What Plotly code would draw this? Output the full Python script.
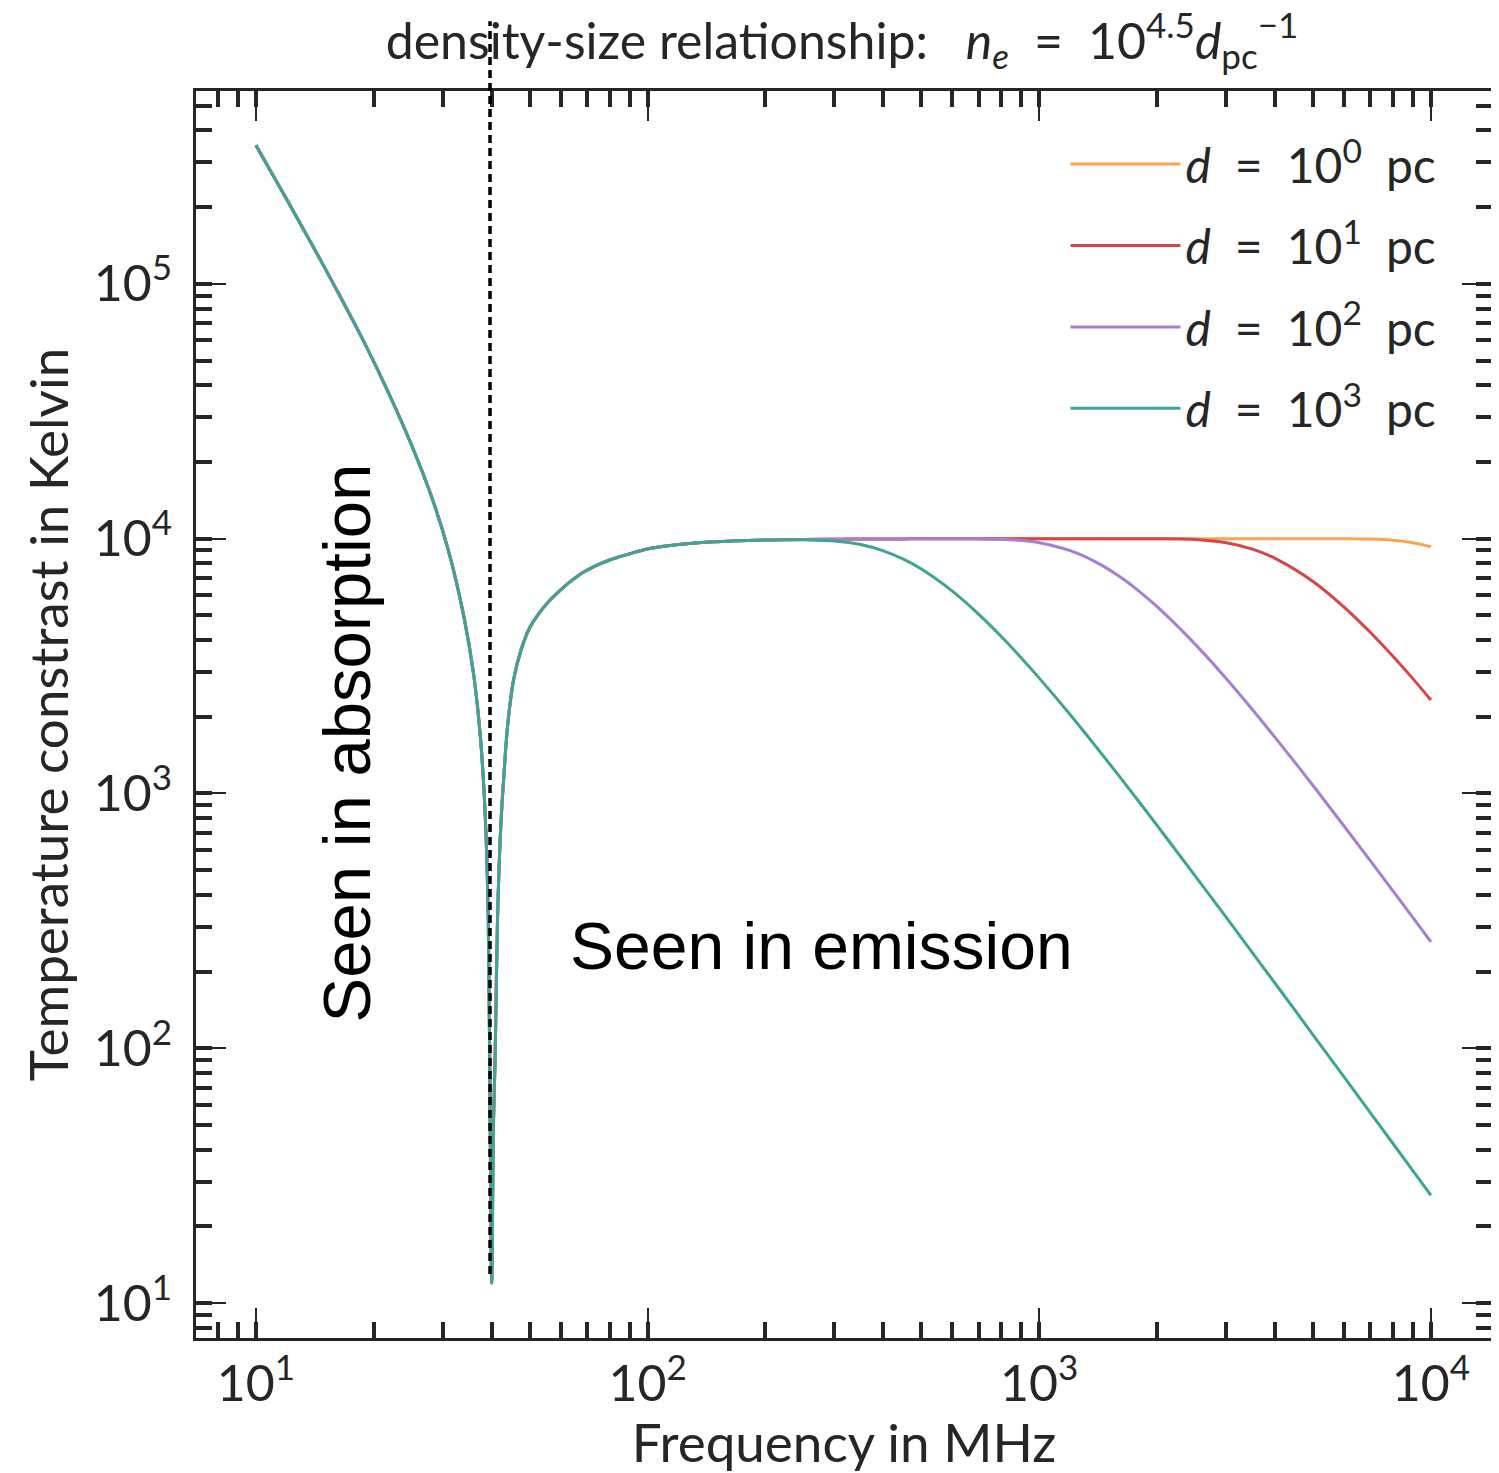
import math
import plotly.graph_objects as go

# ---- data ----
freq_mhz = [10, 12, 14, 16, 19, 22, 25, 28, 31, 34, 36, 37.5, 38.5, 39.2, 39.6, 40.0,
            40.4, 40.8, 41.4, 42.2, 43.0, 44.0, 45.5, 47.5, 50, 53, 56, 60, 63, 67, 71,
            75, 80, 85, 92, 100, 110, 120, 135, 150, 165, 180, 200, 220,
            250, 300, 350, 400, 450, 500, 600, 700, 800, 900, 1000, 1200, 1400, 1600,
            1800, 2000, 2500, 3000, 3500, 4000, 5000, 6000, 7000, 8000, 9000, 10000]

# shared part of all curves (10 - 220 MHz)
t_common = [350000, 214000, 140000, 96000, 58000, 36300, 23200, 14800, 9000, 4900,
            2900, 1600, 820, 320, 60, 12,
            50, 90, 330, 750, 1200, 1900, 2800, 3650, 4470, 5130, 5680, 6300, 6720,
            7220, 7600, 7920, 8250, 8500, 8820, 9110, 9330, 9480, 9640, 9730, 9790,
            9840, 9880, 9905]

# 250 - 10000 MHz, per cloud size
t_tail_d1 = [9925, 9948, 9965, 9975, 9982, 9986, 9991, 9993, 9995, 9996, 9997, 9998,
             9999, 9999, 9999, 10000, 10000, 10000, 10000, 10000, 10000,
             9996, 9963, 9855, 9634, 9294]
t_tail_d10 = [9925, 9948, 9965, 9975, 9982, 9986, 9991, 9993, 9995, 9996, 9997, 9998,
              9999, 9999, 9998, 9996, 9923, 9640, 9096, 8373, 6793, 5392, 4293, 3453,
              2817, 2329]
t_tail_d100 = [9925, 9948, 9965, 9975, 9982, 9986, 9990, 9984, 9947, 9841, 9642, 8973,
               8072, 7118, 6214, 5409, 3856, 2827, 2137, 1661, 1075, 745.5, 545, 415,
               325.5, 261.6]
t_tail_d1000 = [9898, 9796, 9482, 8960, 8307, 7598, 6224, 5059, 4132, 3404, 2836, 2036,
                1518, 1170, 926, 749, 475, 327, 237.5, 180, 113, 77.2, 55.9, 42.3,
                33.0, 26.5]

EQ = "\u2002=\u2002"
series_labels = [f"<i>d</i>{EQ}10<sup>0</sup>\u2002pc", f"<i>d</i>{EQ}10<sup>1</sup>\u2002pc",
                 f"<i>d</i>{EQ}10<sup>2</sup>\u2002pc", f"<i>d</i>{EQ}10<sup>3</sup>\u2002pc"]
series_tails = [t_tail_d1, t_tail_d10, t_tail_d100, t_tail_d1000]
series_colors = ["#FFA24F", "#D94545", "#A57FD2", "#3EA592"]

turnover_mhz = 39.6

x_tickvals = [10, 100, 1000, 10000]
x_ticktext = ["10<sup>1</sup>", "10<sup>2</sup>", "10<sup>3</sup>", "10<sup>4</sup>"]
y_tickvals = [10, 100, 1000, 10000, 100000]
y_ticktext = ["10<sup>1</sup>", "10<sup>2</sup>", "10<sup>3</sup>", "10<sup>4</sup>", "10<sup>5</sup>"]

x_range = [0.847, 4.156]
y_range = [0.863, 5.757]

FONT = "Lato"
TXT = "#262626"
AX = "#262626"

fig = go.Figure()
for i, (label, tail, color) in enumerate(zip(series_labels, series_tails, series_colors)):
    fig.add_trace(go.Scatter(
        x=freq_mhz, y=t_common + tail, mode="lines", name=label,
        legendgroup=f"g{i}",
        line=dict(color=color, width=3, shape="spline", smoothing=1.0),
    ))

axis_common = dict(
    type="log", showgrid=False, zeroline=False, automargin=False,
    showline=True, linewidth=3, linecolor=AX, mirror="ticks",
    ticks="inside", ticklen=30, tickwidth=1.6, tickcolor=AX,
    tickfont=dict(family=FONT, size=50, color=TXT),
    minor=dict(ticks="inside", ticklen=16, tickwidth=3.5, tickcolor=AX,
               dtick="D1", showgrid=False),
)

fig.update_xaxes(**axis_common, range=x_range, tickvals=x_tickvals, ticktext=x_ticktext,
                 ticklabelstandoff=0,
                 title=dict(text="Frequency in MHz", font=dict(family=FONT, size=53, color=TXT),
                            standoff=2))
fig.update_yaxes(**axis_common, range=y_range, tickvals=y_tickvals, ticktext=y_ticktext,
                 ticklabelstandoff=11,
                 title=dict(text="Temperature constrast in Kelvin",
                            font=dict(family=FONT, size=53, color=TXT), standoff=9))

# vertical dashed line at the turnover frequency, placed through the axis range
x_paper = (math.log10(turnover_mhz) - x_range[0]) / (x_range[1] - x_range[0])
y_paper_bottom = (math.log10(13) - y_range[0]) / (y_range[1] - y_range[0])
fig.add_shape(type="line", xref="paper", yref="paper",
              x0=x_paper, x1=x_paper, y0=y_paper_bottom, y1=1.056,
              line=dict(color="black", width=3.5, dash="8px,5px"), layer="above")

fig.add_annotation(text="Seen in absorption", xref="paper", yref="paper",
                   x=0.1157, y=0.4776, textangle=-90, showarrow=False,
                   xanchor="center", yanchor="middle",
                   font=dict(family="Liberation Sans", size=67, color="black"))
fig.add_annotation(text="Seen in emission", xref="paper", yref="paper",
                   x=0.4827, y=0.314, showarrow=False,
                   xanchor="center", yanchor="middle",
                   font=dict(family="Liberation Sans", size=66, color="black"))

W, H = 1491, 1465
fig.update_layout(
    width=W, height=H,
    margin=dict(l=188, r=7, t=83, b=135),
    paper_bgcolor="white", plot_bgcolor="white",
    title=dict(text="density-size relationship:\u2002 <i>n<sub>e</sub></i>\u2002=\u200210<sup>4.5</sup><i>d</i><sub>pc</sub><sup>−1</sup>",
               x=834 / W, xanchor="center", xref="container",
               y=1 - 33 / H, yanchor="middle", yref="container",
               font=dict(family=FONT, size=50, color=TXT)),
    legend=dict(x=0.961, xanchor="right", y=0.9716, yanchor="top",
                bgcolor="rgba(0,0,0,0)", borderwidth=0,
                font=dict(family=FONT, size=48, color=TXT),
                itemwidth=110, tracegroupgap=16, traceorder="grouped"),
    showlegend=True,
)

fig.write_html("out.html")
